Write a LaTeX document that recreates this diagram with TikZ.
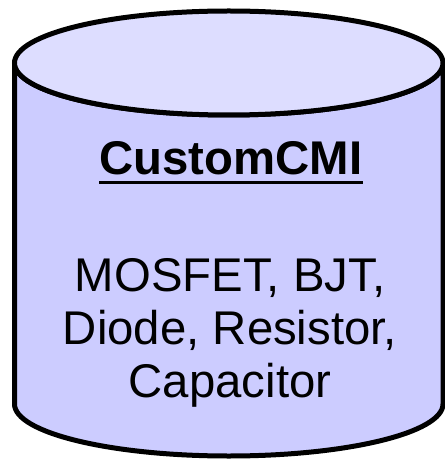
\documentclass[tikz,border=0pt]{standalone}
\usepackage{fontspec}
\setmainfont{Liberation Sans}
\definecolor{bodyfill}{HTML}{CCCCFF}
\definecolor{lidfill}{HTML}{DDDDFF}
\begin{document}
\begin{tikzpicture}[x=1bp,y=-1bp,
  outline/.style={draw=black,line width=5bp},
  label/.style={inner sep=0pt,anchor=base,text=black}]
\useasboundingbox (0,0) rectangle (445,460);
% cylinder body
\path[outline,fill=bodyfill]
  (14.5,63) -- (14.5,404)
  arc[start angle=180,end angle=360,x radius=214.25,y radius=-52]
  -- (443,63)
  arc[start angle=0,end angle=180,x radius=214.25,y radius=52] -- cycle;
% lid
\path[outline,fill=lidfill] (228.75,63) ellipse[x radius=214.25,y radius=52];
% labels
\node[label,font=\fontsize{47.5}{54}\selectfont\bfseries] (title) at (231,175) {CustomCMI};
\draw[line width=3bp] ([yshift=-7.5bp]title.base west) -- ([yshift=-7.5bp]title.base east);
\node[label,font=\fontsize{47.5}{52}\selectfont] (l1) at (230,291) {MOSFET, BJT,};
\node[label,font=\fontsize{47.5}{52}\selectfont] (l2) at (230,344) {Diode, Resistor,};
\node[label,font=\fontsize{47.5}{52}\selectfont] (l3) at (230,397) {Capacitor};
\end{tikzpicture}
\end{document}
